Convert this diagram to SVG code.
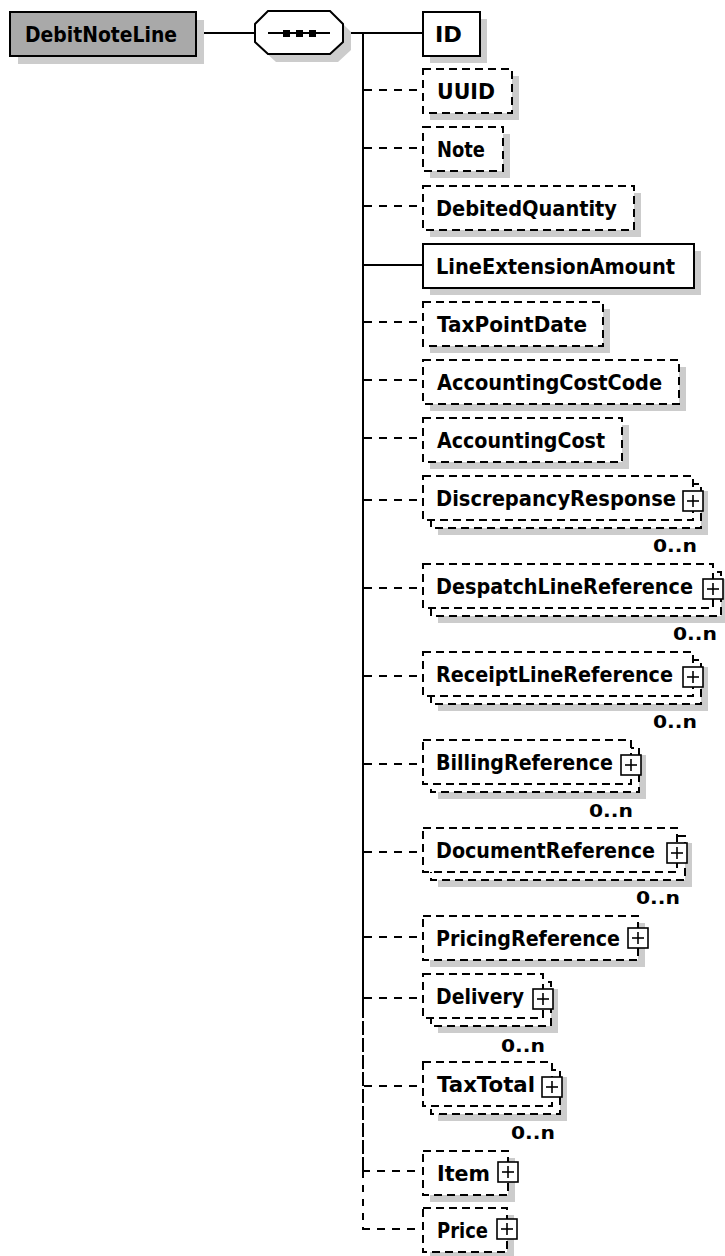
<svg xmlns="http://www.w3.org/2000/svg" width="725" height="1256" viewBox="0 0 725 1256">
<style>
.bg{fill:#ffffff}
.box{fill:#ffffff;stroke:#000;stroke-width:2}
.opt{stroke-dasharray:8 5}
.sh{fill:#cccccc}
.root{fill:#a9a9a9;stroke:#000;stroke-width:2}
.c{stroke:#000;stroke-width:2;fill:none}
.cd{stroke-dasharray:8 7}
.t{font-family:"DejaVu Sans","Liberation Sans",sans-serif;font-weight:bold;font-size:21px;fill:#000}
.m{font-size:17px;text-anchor:end}
.pb{fill:#fff;stroke:#000;stroke-width:1.6}
.pl{stroke:#000;stroke-width:1.6}
</style>
<rect class="bg" x="0" y="0" width="725" height="1256"/>

<g id="connectors">
<line class="c" x1="196" y1="33" x2="255" y2="33"/>
<line class="c" x1="343" y1="33" x2="363" y2="33"/>
<line class="c" x1="363" y1="32" x2="363" y2="1004"/>
<line class="c" x1="363" y1="1004" x2="363" y2="1171" stroke-dasharray="14 3"/>
<line class="c" x1="363" y1="1171" x2="363" y2="1230" stroke-dasharray="7 7"/>
<line class="c" x1="363" y1="33" x2="423" y2="33"/>
<line class="c cd" x1="364" y1="90" x2="423" y2="90"/>
<line class="c cd" x1="364" y1="148" x2="423" y2="148"/>
<line class="c cd" x1="364" y1="206" x2="423" y2="206"/>
<line class="c" x1="363" y1="265" x2="423" y2="265"/>
<line class="c cd" x1="364" y1="322" x2="423" y2="322"/>
<line class="c cd" x1="364" y1="380" x2="423" y2="380"/>
<line class="c cd" x1="364" y1="438" x2="423" y2="438"/>
<line class="c cd" x1="364" y1="500" x2="423" y2="500"/>
<line class="c cd" x1="364" y1="588" x2="423" y2="588"/>
<line class="c cd" x1="364" y1="676" x2="423" y2="676"/>
<line class="c cd" x1="364" y1="764" x2="423" y2="764"/>
<line class="c cd" x1="364" y1="852" x2="423" y2="852"/>
<line class="c cd" x1="364" y1="937" x2="423" y2="937"/>
<line class="c cd" x1="364" y1="998" x2="423" y2="998"/>
<line class="c cd" x1="364" y1="1086" x2="423" y2="1086"/>
<line class="c cd" x1="362" y1="1171" x2="423" y2="1171"/>
<line class="c cd" x1="362" y1="1229" x2="423" y2="1229"/>
</g>

<g id="DebitNoteLine">
<rect class="sh" x="18" y="20" width="186" height="44"/>
<rect class="root" x="10" y="12" width="186" height="44"/>
<text class="t" x="25" y="42" textLength="152" lengthAdjust="spacingAndGlyphs">DebitNoteLine</text>
</g>

<g id="sequence">
<polygon class="sh" points="276,19 338,19 351,32 351,50 338,62 276,62 263,50 263,32"/>
<polygon class="box" points="268,11 330,11 343,24 343,42 330,54 268,54 255,42 255,24"/>
<line class="c" x1="268" y1="33" x2="330" y2="33"/>
<rect x="283" y="30" width="7" height="7" fill="#000"/>
<rect x="296" y="30" width="7" height="7" fill="#000"/>
<rect x="309" y="30" width="7" height="7" fill="#000"/>
</g>

<g id="ID">
<rect class="sh" x="430" y="19" width="57" height="44"/>
<rect class="box" x="423" y="12" width="57" height="44"/>
<text class="t" x="435" y="42" textLength="27" lengthAdjust="spacingAndGlyphs">ID</text>
</g>

<g id="UUID">
<rect class="sh" x="430" y="76" width="89" height="44"/>
<rect class="box opt" x="423" y="69" width="89" height="44"/>
<text class="t" x="437" y="99" textLength="58" lengthAdjust="spacingAndGlyphs">UUID</text>
</g>

<g id="Note">
<rect class="sh" x="430" y="134" width="80" height="44"/>
<rect class="box opt" x="423" y="127" width="80" height="44"/>
<text class="t" x="437" y="157" textLength="48" lengthAdjust="spacingAndGlyphs">Note</text>
</g>

<g id="DebitedQuantity">
<rect class="sh" x="430" y="193" width="211" height="44"/>
<rect class="box opt" x="423" y="186" width="211" height="44"/>
<text class="t" x="436" y="216" textLength="181" lengthAdjust="spacingAndGlyphs">DebitedQuantity</text>
</g>

<g id="LineExtensionAmount">
<rect class="sh" x="430" y="251" width="271" height="44"/>
<rect class="box" x="423" y="244" width="271" height="44"/>
<text class="t" x="436" y="274" textLength="239" lengthAdjust="spacingAndGlyphs">LineExtensionAmount</text>
</g>

<g id="TaxPointDate">
<rect class="sh" x="430" y="309" width="180" height="44"/>
<rect class="box opt" x="423" y="302" width="180" height="44"/>
<text class="t" x="437" y="332" textLength="150" lengthAdjust="spacingAndGlyphs">TaxPointDate</text>
</g>

<g id="AccountingCostCode">
<rect class="sh" x="430" y="367" width="256" height="44"/>
<rect class="box opt" x="423" y="360" width="256" height="44"/>
<text class="t" x="437" y="390" textLength="225" lengthAdjust="spacingAndGlyphs">AccountingCostCode</text>
</g>

<g id="AccountingCost">
<rect class="sh" x="430" y="425" width="199" height="44"/>
<rect class="box opt" x="423" y="418" width="199" height="44"/>
<text class="t" x="437" y="448" textLength="168" lengthAdjust="spacingAndGlyphs">AccountingCost</text>
</g>

<g id="DiscrepancyResponse">
<rect class="sh" x="438" y="491" width="270" height="44"/>
<rect class="box opt" x="431" y="484" width="270" height="44"/>
<rect class="box opt" x="423" y="476" width="270" height="44"/>
<text class="t" x="436" y="506" textLength="240" lengthAdjust="spacingAndGlyphs">DiscrepancyResponse</text>
<rect class="pb" x="683" y="491" width="20" height="20"/>
<line class="pl" x1="687" y1="501" x2="699" y2="501"/>
<line class="pl" x1="693" y1="495" x2="693" y2="507"/>
<text class="t m" x="697" y="552" textLength="44" lengthAdjust="spacingAndGlyphs">0..n</text>
</g>

<g id="DespatchLineReference">
<rect class="sh" x="438" y="579" width="290" height="44"/>
<rect class="box opt" x="431" y="572" width="290" height="44"/>
<rect class="box opt" x="423" y="564" width="290" height="44"/>
<text class="t" x="436" y="594" textLength="257" lengthAdjust="spacingAndGlyphs">DespatchLineReference</text>
<rect class="pb" x="703" y="579" width="20" height="20"/>
<line class="pl" x1="707" y1="589" x2="719" y2="589"/>
<line class="pl" x1="713" y1="583" x2="713" y2="595"/>
<text class="t m" x="717" y="640" textLength="44" lengthAdjust="spacingAndGlyphs">0..n</text>
</g>

<g id="ReceiptLineReference">
<rect class="sh" x="438" y="667" width="270" height="44"/>
<rect class="box opt" x="431" y="660" width="270" height="44"/>
<rect class="box opt" x="423" y="652" width="270" height="44"/>
<text class="t" x="436" y="682" textLength="237" lengthAdjust="spacingAndGlyphs">ReceiptLineReference</text>
<rect class="pb" x="683" y="667" width="20" height="20"/>
<line class="pl" x1="687" y1="677" x2="699" y2="677"/>
<line class="pl" x1="693" y1="671" x2="693" y2="683"/>
<text class="t m" x="697" y="728" textLength="44" lengthAdjust="spacingAndGlyphs">0..n</text>
</g>

<g id="BillingReference">
<rect class="sh" x="438" y="755" width="208" height="44"/>
<rect class="box opt" x="431" y="748" width="208" height="44"/>
<rect class="box opt" x="423" y="740" width="208" height="44"/>
<text class="t" x="436" y="770" textLength="177" lengthAdjust="spacingAndGlyphs">BillingReference</text>
<rect class="pb" x="621" y="755" width="20" height="20"/>
<line class="pl" x1="625" y1="765" x2="637" y2="765"/>
<line class="pl" x1="631" y1="759" x2="631" y2="771"/>
<text class="t m" x="633" y="817" textLength="44" lengthAdjust="spacingAndGlyphs">0..n</text>
</g>

<g id="DocumentReference">
<rect class="sh" x="438" y="843" width="254" height="44"/>
<rect class="box opt" x="431" y="836" width="254" height="44"/>
<rect class="box opt" x="423" y="828" width="254" height="44"/>
<text class="t" x="436" y="858" textLength="219" lengthAdjust="spacingAndGlyphs">DocumentReference</text>
<rect class="pb" x="667" y="843" width="20" height="20"/>
<line class="pl" x1="671" y1="853" x2="683" y2="853"/>
<line class="pl" x1="677" y1="847" x2="677" y2="859"/>
<text class="t m" x="680" y="904" textLength="44" lengthAdjust="spacingAndGlyphs">0..n</text>
</g>

<g id="PricingReference">
<rect class="sh" x="430" y="923" width="215" height="44"/>
<rect class="box opt" x="423" y="916" width="215" height="44"/>
<text class="t" x="436" y="946" textLength="184" lengthAdjust="spacingAndGlyphs">PricingReference</text>
<rect class="pb" x="628" y="928" width="20" height="20"/>
<line class="pl" x1="632" y1="938" x2="644" y2="938"/>
<line class="pl" x1="638" y1="932" x2="638" y2="944"/>
</g>

<g id="Delivery">
<rect class="sh" x="438" y="989" width="120" height="44"/>
<rect class="box opt" x="431" y="982" width="120" height="44"/>
<rect class="box opt" x="423" y="974" width="120" height="44"/>
<text class="t" x="436" y="1004" textLength="88" lengthAdjust="spacingAndGlyphs">Delivery</text>
<rect class="pb" x="533" y="989" width="20" height="20"/>
<line class="pl" x1="537" y1="999" x2="549" y2="999"/>
<line class="pl" x1="543" y1="993" x2="543" y2="1005"/>
<text class="t m" x="545" y="1052" textLength="44" lengthAdjust="spacingAndGlyphs">0..n</text>
</g>

<g id="TaxTotal">
<rect class="sh" x="438" y="1077" width="129" height="44"/>
<rect class="box opt" x="431" y="1070" width="129" height="44"/>
<rect class="box opt" x="423" y="1062" width="129" height="44"/>
<text class="t" x="437" y="1092" textLength="98" lengthAdjust="spacingAndGlyphs">TaxTotal</text>
<rect class="pb" x="542" y="1077" width="20" height="20"/>
<line class="pl" x1="546" y1="1087" x2="558" y2="1087"/>
<line class="pl" x1="552" y1="1081" x2="552" y2="1093"/>
<text class="t m" x="555" y="1139" textLength="44" lengthAdjust="spacingAndGlyphs">0..n</text>
</g>

<g id="Item">
<rect class="sh" x="430" y="1158" width="85" height="44"/>
<rect class="box opt" x="423" y="1151" width="85" height="44"/>
<text class="t" x="437" y="1181" textLength="53" lengthAdjust="spacingAndGlyphs">Item</text>
<rect class="pb" x="498" y="1162" width="20" height="20"/>
<line class="pl" x1="502" y1="1172" x2="514" y2="1172"/>
<line class="pl" x1="508" y1="1166" x2="508" y2="1178"/>
</g>

<g id="Price">
<rect class="sh" x="430" y="1215" width="84" height="44"/>
<rect class="box opt" x="423" y="1208" width="84" height="44"/>
<text class="t" x="437" y="1238" textLength="51" lengthAdjust="spacingAndGlyphs">Price</text>
<rect class="pb" x="497" y="1219" width="20" height="20"/>
<line class="pl" x1="501" y1="1229" x2="513" y2="1229"/>
<line class="pl" x1="507" y1="1223" x2="507" y2="1235"/>
</g>
</svg>
